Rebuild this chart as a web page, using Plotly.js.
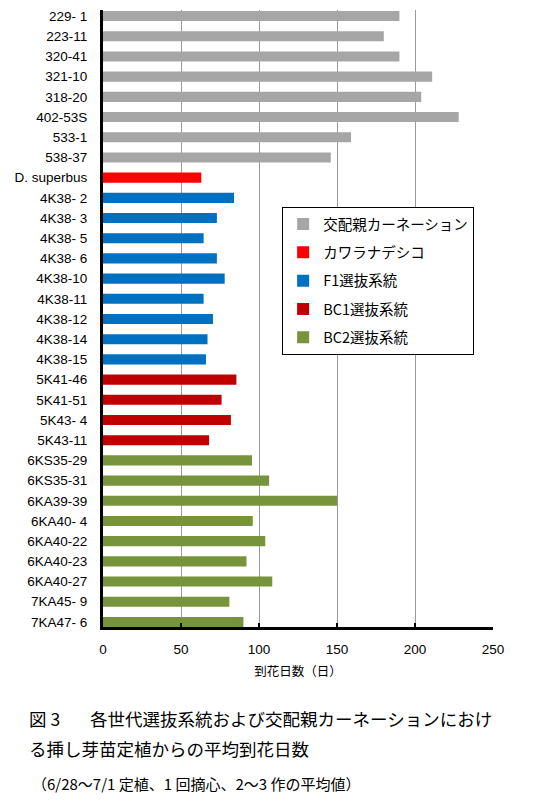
<!DOCTYPE html>
<html>
<head>
<meta charset="utf-8">
<script src="https://cdn.plot.ly/plotly-3.0.1.min.js"></script>
<style>html,body{margin:0;padding:0;background:#fff;}#chart{width:550px;height:809px;}</style>
</head>
<body>
<div id="chart"></div>
<script>
// ---- data ----
const parentNames = ['229- 1','223-11','320-41','321-10','318-20','402-53S','533-1','538-37'];
const parentDays = [190,180,190,211,204,228,159,146];
const superbusNames = ['D. superbus'];
const superbusDays = [63];
const f1Names = ['4K38- 2','4K38- 3','4K38- 5','4K38- 6','4K38-10','4K38-11','4K38-12','4K38-14','4K38-15'];
const f1Days = [84,73,64.5,73,78,64.5,70.5,67,66];
const bc1Names = ['5K41-46','5K41-51','5K43- 4','5K43-11'];
const bc1Days = [85.5,76,82,68];
const bc2Names = ['6KS35-29','6KS35-31','6KA39-39','6KA40- 4','6KA40-22','6KA40-23','6KA40-27','7KA45- 9','7KA47- 6'];
const bc2Days = [95.5,106.5,150,96,104,92,108.5,81,90];
const seriesNames = ['交配親カーネーション','カワラナデシコ','F1選抜系統','BC1選抜系統','BC2選抜系統'];
const xTicks = [0,50,100,150,200,250];

const categories = [].concat(parentNames, superbusNames, f1Names, bc1Names, bc2Names);
const colors = ['#A6A6A6','#FF0000','#0070C0','#C00000','#77933C'];
const groups = [[parentNames,parentDays],[superbusNames,superbusDays],[f1Names,f1Days],[bc1Names,bc1Days],[bc2Names,bc2Days]];

const traces = groups.map((g,i)=>({
  type:'bar', orientation:'h', y:g[0], x:g[1], name:seriesNames[i],
  legendgroup:'g'+i, width:0.5,
  marker:{color:colors[i], line:{width:0}},
  hoverinfo:'x+y'
}));

const L = 102.5, R = 493.3, T = 10, B = 627;
const W = 550, H = 809;
const px = p => (p - L)/(R - L);
const py = p => (B - p)/(B - T);

const jp = '"Noto Sans CJK JP", "Noto Sans", sans-serif';
const lat = '"Liberation Sans", Arial, sans-serif';
const layout = {
  width:W, height:H,
  margin:{l:L, r:W-R, t:T, b:H-B, pad:0},
  paper_bgcolor:'#fff', plot_bgcolor:'#fff',
  barmode:'overlay',
  showlegend:true,
  legend:{
    x:px(282), y:py(207), xanchor:'left', yanchor:'top',
    bgcolor:'#fff', bordercolor:'#000', borderwidth:1,
    font:{family:jp, size:14.5, color:'#000'},
    traceorder:'grouped', tracegroupgap:6.5,
    itemclick:false
  },
  xaxis:{
    range:[0,250], tickvals:xTicks, ticktext:xTicks.map(String),
    showgrid:true, gridcolor:'#9a9a9a', gridwidth:1,
    zeroline:false, showline:true, linecolor:'#000', linewidth:3,
    ticks:'inside', ticklen:4, tickwidth:1.5, tickcolor:'#000',
    tickfont:{family:lat, size:13.5, color:'#000'},
    ticklabelstandoff:8,
    title:{text:'到花日数（日）', font:{family:jp, size:12.5, color:'#000'}, standoff:12},
    fixedrange:true
  },
  yaxis:{
    type:'category', categoryorder:'array', categoryarray:categories,
    range:[30.25,-0.3],
    showgrid:false, zeroline:false, showline:true, linecolor:'#000', linewidth:3,
    ticks:'', tickfont:{family:lat, size:13.5, color:'#000'},
    ticklabelstandoff:10,
    fixedrange:true
  },
  annotations:[
    {xref:'paper', yref:'paper', x:px(26), y:py(718), xanchor:'left', yanchor:'middle', showarrow:false,
     text:'図 3', font:{family:jp, size:17.5, color:'#000'}},
    {xref:'paper', yref:'paper', x:px(87), y:py(718), xanchor:'left', yanchor:'middle', showarrow:false,
     text:'各世代選抜系統および交配親カーネーションにおけ', font:{family:jp, size:17.5, color:'#000'}},
    {xref:'paper', yref:'paper', x:px(26), y:py(748), xanchor:'left', yanchor:'middle', showarrow:false,
     text:'る挿し芽苗定植からの平均到花日数', font:{family:jp, size:17.5, color:'#000'}},
    {xref:'paper', yref:'paper', x:px(29), y:py(783), xanchor:'left', yanchor:'middle', showarrow:false,
     text:'（6/28～7/1 定植、1 回摘心、2～3 作の平均値）', font:{family:jp, size:15, color:'#000'}}
  ]
};

Plotly.newPlot('chart', traces, layout, {displayModeBar:false, staticPlot:true});
</script>
</body>
</html>
